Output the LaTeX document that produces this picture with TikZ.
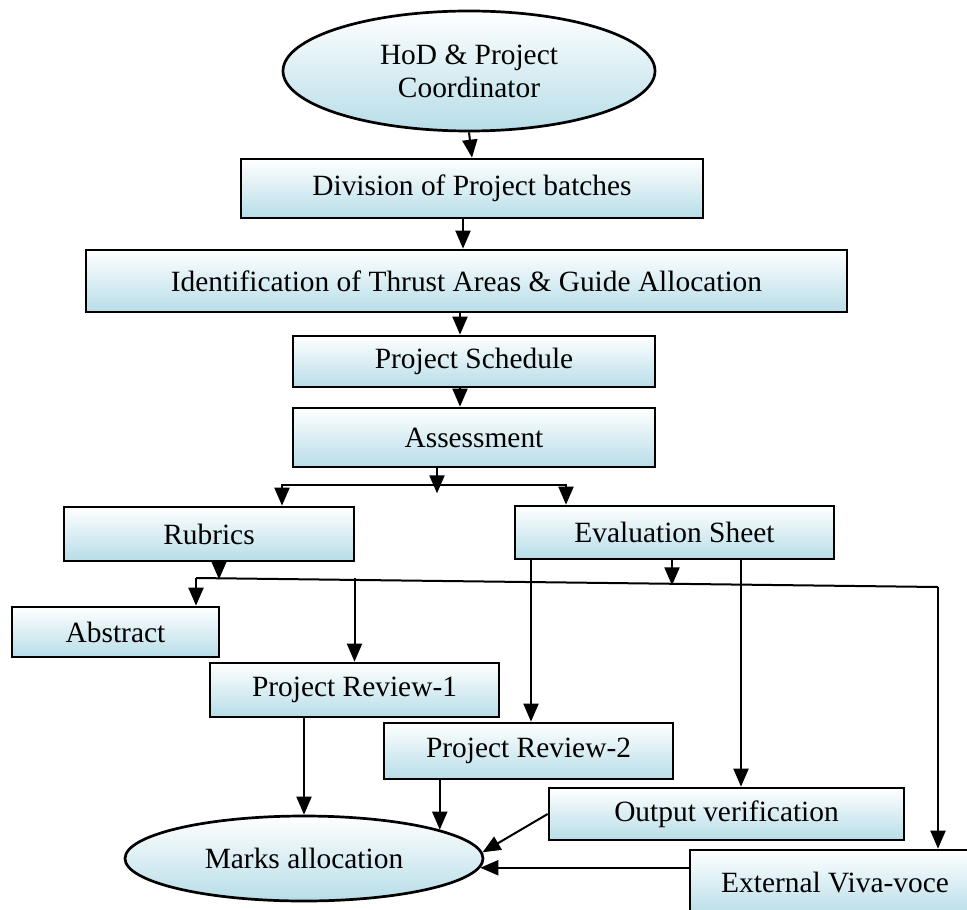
\documentclass[tikz,border=0pt]{standalone}
\usepackage{fontspec}
\setmainfont{Liberation Serif}
\usetikzlibrary{shapes.geometric,arrows.meta}
\definecolor{boxblue}{HTML}{B7DDE8}
\tikzset{
  blk/.style={draw,line width=1.35pt,top color=white,bottom color=boxblue,inner sep=0pt,font=\fontsize{14.7}{16.5}\selectfont},
  oval/.style={blk,ellipse},
  arr/.style={line width=1pt,-{Triangle[length=9pt,width=7.5pt]}},
  dblarr/.style={line width=1pt,{Triangle[length=9pt,width=7.5pt]}-{Triangle[length=9pt,width=7.5pt]}}
}
\begin{document}
\begin{tikzpicture}[x=0.5pt,y=-0.5pt]
   \useasboundingbox (0,0) rectangle (967,909);
   \clip (0,0) rectangle (967,909);
   \node[oval,minimum width=186pt,minimum height=60pt,align=center] (hod) at (469,71) {HoD \& Project\\Coordinator};
   \node[blk,minimum width=231pt,minimum height=29.5pt] (div) at (472,188.5) {Division of Project batches};
   \node[blk,minimum width=380.5pt,minimum height=31pt] (ident) at (466.5,281) {Identification of Thrust Areas \& Guide Allocation};
   \node[blk,minimum width=181pt,minimum height=25.5pt] (sched) at (474,361.5) {Project Schedule};
   \node[blk,minimum width=181pt,minimum height=29.5pt] (assess) at (474,437.5) {Assessment};
   \node[blk,minimum width=145pt,minimum height=27pt] (rub) at (209,534) {Rubrics};
   \node[blk,minimum width=159.5pt,minimum height=26.5pt] (eval) at (674.5,532.5) {Evaluation Sheet};
   \node[blk,minimum width=103.5pt,minimum height=25pt] (abs) at (115.5,632) {Abstract};
   \node[blk,minimum width=144.5pt,minimum height=27pt] (pr1) at (354.5,690) {Project Review-1};
   \node[blk,minimum width=144.5pt,minimum height=28pt] (pr2) at (528.5,751) {Project Review-2};
   \node[blk,minimum width=177.5pt,minimum height=26pt] (outv) at (726.5,814) {Output verification};
   \node[blk,minimum width=145pt,minimum height=33pt] (ext) at (835,883) {External Viva-voce};
   \node[oval,minimum width=179pt,minimum height=42.5pt] (marks) at (304,858.5) {Marks allocation};

   \coordinate (fork) at (437,485);
   \coordinate (busL) at (196,578);
   \coordinate (busR) at (938,587);

   \draw[arr] (hod.south) -- (div.north);
   \draw[arr] (div.south -| 463,0) -- (ident.north -| 463,0);
   \draw[arr] (ident.south -| 460,0) -- (sched.north -| 460,0);
   \draw[arr] (sched.south -| 460,0) -- (assess.north -| 460,0);
   \draw[arr] (assess.south -| fork) -- ++(0,25);
   \draw[dblarr] (rub.north -| 282,0) |- (fork) -| (eval.north -| 566,0);

   \draw[line width=1pt] (busL) -- (busR);
   \draw[arr] (rub.south -| 219,0) -- ++(0,17);
   \draw[arr] (eval.south -| 672,0) -- ++(0,25);
   \draw[arr] (busL) -- (abs.north -| busL);
   \draw[arr] (pr1.north |- busL) -- (pr1.north);
   \draw[arr] (busR) -- (ext.north -| busR);
   \draw[arr] (eval.south -| 531,0) -- (pr2.north -| 531,0);
   \draw[arr] (eval.south -| 741,0) -- (outv.north -| 741,0);

   \draw[arr] (pr1.south -| marks.north) -- (marks.north);
   \draw[arr] (pr2.south -| marks.12) -- (marks.12);
   \draw[arr] (outv.west) -- (marks.2);
   \draw[arr] (ext.west |- marks.-3) -- (marks.-3);
 \end{tikzpicture}
\end{document}
